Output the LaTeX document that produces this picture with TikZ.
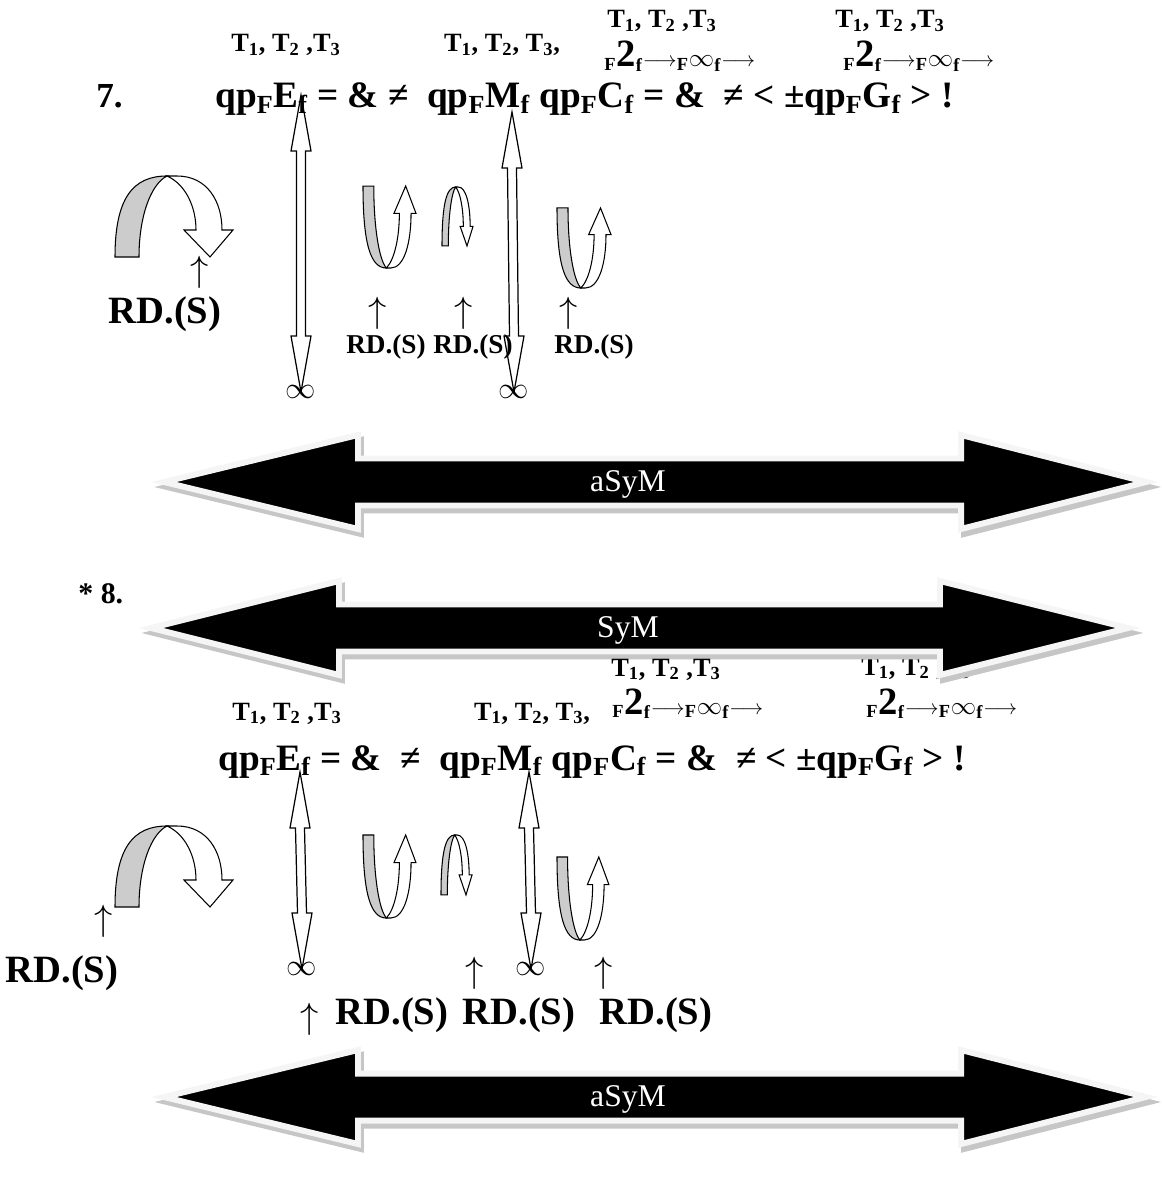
\documentclass[tikz,border=0pt]{standalone}
\usepackage{fontspec}
\setmainfont{Liberation Serif}
\usetikzlibrary{calc}

\newcommand{\lo}[1]{\textsubscript{#1}}
\newcommand{\Ts}{T\lo{1}, T\lo{2} ,T\lo{3}}
\newcommand{\Tc}{T\lo{1}, T\lo{2}, T\lo{3},}
\newcommand{\lra}{{\fontsize{12}{12}\selectfont$\longrightarrow$}}
\newcommand{\chain}{\lo{F}{\fontsize{22}{22}\selectfont 2}\lo{f}\lra\lo{F}{\fontsize{15}{15}\selectfont$\infty$}\lo{f}\lra}

% hollow two-headed vertical arrow, tips at #1 (top) and #2 (bottom)
\newcommand{\hollowarrow}[2]{%
  \draw[hollow] (#1) -- ($(#1)+(10,56)$) -- ($(#1)+(4.5,56)$) -- ($(#2)+(4.5,-56)$)
    -- ($(#2)+(10,-56)$) -- (#2) -- ($(#2)+(-10,-56)$) -- ($(#2)+(-4.5,-56)$)
    -- ($(#1)+(-4.5,56)$) -- ($(#1)+(-10,56)$) -- cycle;}

% big black two-headed arrow: y, left tip, left head base, right head base, right tip
\newcommand{\fatarrow}[5]{%
  \begin{scope}[shift={(3,5)}]
    \filldraw[gray!45, line width=3.4pt]
      (#2,#1) -- (#3,{#1-47}) -- (#3,{#1-23.5}) -- (#4,{#1-23.5}) -- (#4,{#1-47}) -- (#5,#1)
      -- (#4,{#1+47}) -- (#4,{#1+23.5}) -- (#3,{#1+23.5}) -- (#3,{#1+47}) -- cycle;
  \end{scope}
  \filldraw[fill=black, draw=gray!8, line width=3.4pt]
    (#2,#1) -- (#3,{#1-47}) -- (#3,{#1-23.5}) -- (#4,{#1-23.5}) -- (#4,{#1-47}) -- (#5,#1)
    -- (#4,{#1+47}) -- (#4,{#1+23.5}) -- (#3,{#1+23.5}) -- (#3,{#1+47}) -- cycle;}

\tikzset{
  ribbon/.pic={
    \filldraw[fill=gray!40, line width=0.6pt] (0,81) .. controls (0,22) and (18,0) .. (52,0)
      .. controls (36,8) and (24,40) .. (24,81) -- cycle;
    \filldraw[fill=white, line width=0.6pt] (52,0) -- (62,0) .. controls (92,0) and (107,25) .. (107,54)
      -- (118,54) -- (95,81) -- (69,54) -- (81,54) .. controls (81,30) and (70,8) .. (52,0) -- cycle;
  },
}

\begin{document}
\begin{tikzpicture}[x=0.02cm, y=-0.02cm,
    formula/.style={font=\bfseries\fontsize{21.2}{24}\selectfont, inner sep=0pt, anchor=base west},
    numlbl/.style={font=\bfseries\fontsize{20}{24}\selectfont, inner sep=0pt, anchor=base west},
    tlbl/.style={font=\bfseries\fontsize{15}{17}\selectfont, inner sep=0pt, anchor=base},
    rdbig/.style={font=\bfseries\fontsize{22}{24}\selectfont, inner sep=0pt},
    rdsmall/.style={font=\bfseries\fontsize{15.5}{17}\selectfont, inner sep=0pt},
    uparr/.style={font=\fontsize{22}{24}\selectfont, inner sep=0pt},
    infsym/.style={font=\fontsize{17}{18}\selectfont, inner sep=0pt},
    bartext/.style={font=\fontsize{18}{20}\selectfont, text=white, inner sep=0pt},
    hollow/.style={draw=black, line width=0.7pt}]
\useasboundingbox (0,0) rectangle (1162,1193);

% ---- 7.
\node[numlbl] (n7) at (96,108) {7.};
\node[formula] (f7) at (215,108) {qp\lo{F}E\lo{f} = \& ≠\ \ qp\lo{F}M\lo{f} qp\lo{F}C\lo{f} = \&\ \ ≠ < ±qp\lo{F}G\lo{f} > !};
\node[tlbl] (t7a) at (286,52) {\Ts};
\node[tlbl] (t7b) at (502,52) {\Tc};
\node[tlbl] (t7c) at (662,28) {\Ts};
\node[tlbl] (t7d) at (890,28) {\Ts};
\node[tlbl, anchor=base west] (c7a) at (604,67) {\chain};
\node[tlbl, anchor=base west] (c7b) at (843,67) {\chain};

\pic at (115,176) {ribbon};
\pic[xscale=0.449, yscale=-1.012] at (363,268) {ribbon};
\pic[xscale=0.263, yscale=0.728] at (442,187) {ribbon};
\pic[xscale=0.458, yscale=-0.988] at (557,288) {ribbon};

\node[infsym] (inf7a) at (301,392) {$\infty$};
\node[infsym] (inf7b) at (514,392) {$\infty$};
\coordinate (e7) at (301,95);
\coordinate (m7) at (512,112);
\hollowarrow{e7}{inf7a.center}
\hollowarrow{m7}{inf7b.center}

\node[uparr] (u7a) at (200,272) {$\uparrow$};
\node[rdbig] (rd7a) at (165,314) {RD.(S)};
\node[uparr] (u7b) at (378,313) {$\uparrow$};
\node[rdsmall] (rd7b) at (386,347) {RD.(S)};
\node[uparr] (u7c) at (464,313) {$\uparrow$};
\node[rdsmall] (rd7c) at (473,347) {RD.(S)};
\node[uparr] (u7d) at (569,313) {$\uparrow$};
\node[rdsmall] (rd7d) at (594,347) {RD.(S)};

\fatarrow{482}{164}{358}{961}{1146}
\node[bartext] (asym1) at (628,484) {aSyM};

% ---- * 8.
\node[numlbl, font=\bfseries\fontsize{17}{20}\selectfont] (n8) at (78,603) {* 8.};
\node[tlbl] (t8d) at (916,675) {\Ts};
\fatarrow{628}{151}{339}{940}{1128}
\node[bartext] (sym) at (628,630) {SyM};
\node[tlbl] (t8c) at (666,676) {\Ts};

\node[tlbl] (t8a) at (287,720) {\Ts};
\node[tlbl] (t8b) at (532,720) {\Tc};
\node[tlbl, anchor=base west] (c8a) at (612,714) {\chain};
\node[tlbl, anchor=base west] (c8b) at (866,714) {\chain};
\node[formula] (f8) at (218,770) {qp\lo{F}E\lo{f} = \&\ \ ≠\ \ qp\lo{F}M\lo{f} qp\lo{F}C\lo{f} = \&\ \ ≠ < ±qp\lo{F}G\lo{f} > !};

\pic at (115,826) {ribbon};
\pic[xscale=0.449, yscale=-1.025] at (363,918) {ribbon};
\pic[xscale=0.263, yscale=0.74] at (441,835) {ribbon};
\pic[xscale=0.44, yscale=-1.025] at (557,940) {ribbon};

\node[infsym] (inf8a) at (302,969) {$\infty$};
\node[infsym] (inf8b) at (531,969) {$\infty$};
\coordinate (e8) at (300,772);
\coordinate (m8) at (529,772);
\hollowarrow{e8}{inf8a.center}
\hollowarrow{m8}{inf8b.center}

\node[uparr] (u8a) at (104,921) {$\uparrow$};
\node[rdbig] (rd8a) at (62,973) {RD.(S)};
\node[uparr] (u8b) at (475,973) {$\uparrow$};
\node[uparr] (u8c) at (604,973) {$\uparrow$};
\node[uparr] (u8d) at (310,1019) {$\uparrow$};
\node[rdbig] (rd8b) at (392,1015) {RD.(S)};
\node[rdbig] (rd8c) at (519,1015) {RD.(S)};
\node[rdbig] (rd8d) at (656,1015) {RD.(S)};

\fatarrow{1097}{164}{358}{961}{1146}
\node[bartext] (asym2) at (628,1099) {aSyM};
\end{tikzpicture}
\end{document}
